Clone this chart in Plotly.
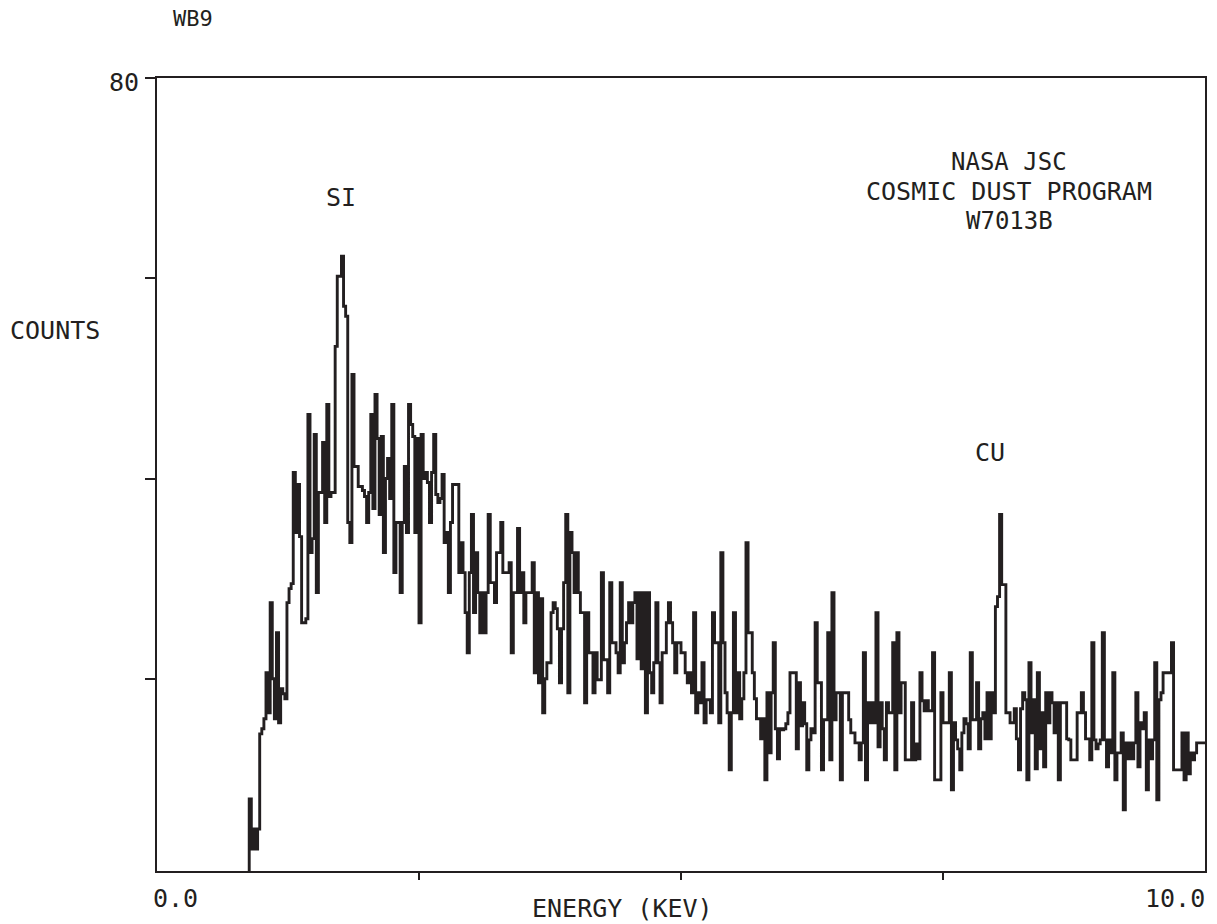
import plotly.graph_objects as go

# Channel width (keV)
channel_width_kev = 0.02

# Counts per channel, 0.00 - 2.00 keV (channels 0-99)
counts_0_2kev = [
    0, 0, 0, 0, 0, 0, 0, 0, 0, 0,
    0, 0, 0, 0, 0, 0, 0, 0, 0, 0,
    0, 0, 0, 0, 0, 0, 0, 0, 0, 0,
    0, 0, 0, 0, 0, 0, 0, 0, 0, 0,
    0, 0, 0, 0,
    8, 3, 5, 3, 5, 14.5, 15, 16, 20.6, 16.6,
    27.6, 20, 16, 24.6, 15.6, 19, 18.5, 18, 27.6, 29,
    29.5, 40.6, 34.6, 39.4, 34.2, 25.6, 25.6, 26, 46.4, 32.6,
    34, 44.4, 28.6, 38.6, 38.6, 43.6, 35.6, 47.4, 38.2, 38.6,
    38.6, 53.2, 60.2, 60.2, 62.2, 57.2, 56.2, 35.6, 33.6, 50.4,
    41.2, 41.2, 39.2, 39.2, 38.8, 38.2,
]

# channels 100-199 (2.00 - 4.00 keV)
counts_2_4kev = [
    35.6, 38.6, 46.4, 37, 48.4, 44, 36.4, 44.2, 32.6, 40,
    42, 38, 47.4, 30.6, 35.6, 35.6, 28.6, 35.6, 41.2, 34.6,
    47.4, 45.4, 44.2, 34.6, 44, 25.6, 44.4, 40, 40.6, 39.6,
    35.6, 40.6, 44.4, 38.4, 37.6, 38, 40.4, 33.6, 34.6, 28.6,
    35.6, 39.4, 39.4, 39.4, 30.6, 33.6, 30.6, 26.6, 22.6, 30.6,
    36.4, 26.6, 32.6, 28.6, 24.6, 28.6, 24.6, 28.6, 36.4, 29.6,
    29.6, 27.6, 32.6, 32.6, 35.6, 30.6, 30.6, 30.6, 31.6, 22.6,
    28.6, 28.6, 35, 28.6, 30.6, 25.6, 28.6, 28.6, 28.6, 31.6,
    20.6, 28.6, 19.6, 28, 16.6, 20, 21.6, 21.6, 26.6, 27.6,
    27, 25, 19.6, 25, 29.6, 36.4, 18.6, 34.6, 32.6, 28.6,
]

# channels 200-299 (4.00 - 6.00 keV)
counts_4_6kev = [
    32.6, 28.6, 26.6, 26.6, 17.6, 26.6, 22.6, 22.6, 18.6, 22.6,
    19.9, 19.9, 30.6, 21.9, 21.9, 18.6, 29.6, 23.6, 23.6, 22.6,
    20.6, 29.6, 21.6, 23.6, 25.6, 27.6, 25.6, 27.6, 28.6, 22,
    28.6, 21, 28.6, 16.6, 28.6, 20.6, 18.6, 21.6, 27.6, 21.6,
    17.6, 22.6, 22.6, 25.6, 27.6, 25.6, 23.6, 20.6, 23.6, 23.6,
    22.6, 22.6, 20.6, 19.6, 20.6, 18.6, 26.6, 16.6, 18.6, 17.6,
    21.6, 15.6, 17.9, 17.9, 16.6, 26.6, 23.6, 23.6, 15.6, 32.6,
    23.6, 18.6, 16.6, 10.9, 16.6, 26.6, 16.6, 20.6, 16, 18,
    20.6, 33.6, 24.6, 24.6, 20.6, 18, 16, 16, 14, 16,
    9.9, 18.6, 12.6, 18.6, 23.6, 15, 12, 15, 14.9, 15,
]

# channels 300-399 (6.00 - 8.00 keV)
counts_6_8kev = [
    15.5, 16.6, 20.6, 20.6, 20.6, 13, 19.6, 15.3, 17.6, 15.5,
    10.9, 13.9, 15, 14.6, 25.6, 19.6, 19.6, 10.9, 15.9, 15.9,
    24.6, 11.9, 28.6, 15.9, 18.6, 18.6, 9.9, 18.6, 18.6, 18.6,
    15.9, 14.6, 14.6, 13.6, 13.6, 11.9, 13.6, 22.6, 9.9, 17.6,
    15.6, 17.6, 15.6, 26.6, 13.2, 17.6, 15, 11.9, 17.6, 16.6,
    16.6, 23.6, 10.9, 24.6, 16.6, 19.6, 19.6, 11.9, 11.9, 11.9,
    17.6, 11.9, 13.5, 12, 20.6, 17.8, 16.8, 17.8, 16.8, 16.8,
    22.6, 9.9, 9.9, 9.9, 18.6, 15.6, 15.6, 15.6, 20.6, 8.9,
    15.6, 13.9, 13, 10.9, 14.6, 16, 15.5, 13, 22.6, 15.9,
    15.9, 19.6, 13, 16, 16.6, 14, 18.6, 14, 18.6, 16.6,
]

# channels 400-499 (8.00 - 10.00 keV)
counts_8_10kev = [
    27.2, 28.2, 36.4, 29.4, 29.4, 16.6, 16.6, 15.6, 15.6, 17,
    14, 10.9, 17, 18.6, 17.9, 9.9, 21.6, 14.6, 17.9, 11,
    20.6, 13, 16.6, 11.2, 18.6, 15.6, 18.6, 17.6, 14.6, 17.6,
    9.9, 17.6, 17.6, 17.6, 14, 13.9, 11.9, 11.9, 11.9, 16.6,
    16.6, 18.6, 16.6, 14, 14, 11.9, 23.6, 13.9, 13, 13.5,
    13.9, 24.6, 13.9, 11.2, 13.9, 12.6, 20.6, 9.9, 12.6, 12.6,
    14.6, 6.9, 13.6, 12, 13.6, 12, 13.6, 18.6, 11.2, 15.6,
    15, 16.6, 8.9, 13.9, 12, 13.9, 21.6, 7.9, 17.9, 18.6,
    20.6, 20.6, 20.6, 20.6, 23.6, 10.9, 10.9, 10.9, 10.9, 14.6,
    9.9, 14.6, 10.5, 12.6, 11.9, 12.6, 13.6, 13.6, 13.6, 13.6,
]

counts = counts_0_2kev + counts_2_4kev + counts_4_6kev + counts_6_8kev + counts_8_10kev
energies = [round(i * channel_width_kev, 4) for i in range(len(counts))]
# close the last channel at its right edge
energies_plot = energies + [round(len(counts) * channel_width_kev, 4)]
counts_plot = counts + [counts[-1]]

x_ticks = [2.5, 5.0, 7.5]
y_ticks = [20, 40, 60, 80]

INK = "#231f20"
FONT = "DejaVu Sans Mono"

fig = go.Figure()
fig.add_trace(go.Scatter(
    x=energies_plot, y=counts_plot, mode="lines",
    line=dict(shape="hv", color=INK, width=2.9),
    showlegend=False, hoverinfo="skip",
))

W, H = 1217, 924
L, R, T, B = 157, 1207, 78, 871


def px(x):
    return (x - L) / (R - L)


def py(y):
    return (B - y) / (B - T)


def label(text, x, y, size=24):
    return dict(text=text, x=px(x), y=py(y), xref="paper", yref="paper",
                showarrow=False, xanchor="center", yanchor="middle",
                font=dict(family=FONT, size=size, color=INK))


annotations = [
    label("WB9", 193, 19, 22),
    label("80", 124, 83, 25),
    label("COUNTS", 55, 330, 25),
    label("SI", 341, 197, 25),
    label("NASA JSC", 1011, 162, 24),
    label("COSMIC DUST PROGRAM", 1011, 192, 25),
    label("W7013B", 1011, 221, 24),
    label("CU", 992, 452, 25),
    label("0.0", 176, 898, 25),
    label("ENERGY (KEV)", 623, 908, 25),
    label("10.0", 1177, 898, 25),
]

fig.update_layout(
    width=W, height=H,
    margin=dict(l=L, r=W - R, t=T, b=H - B, pad=0),
    paper_bgcolor="white", plot_bgcolor="white",
    annotations=annotations,
    xaxis=dict(range=[0, 10], showline=True, linecolor=INK, linewidth=2,
               mirror=True, ticks="outside", tickvals=x_ticks, ticklen=7,
               tickwidth=2, tickcolor=INK, showticklabels=False,
               showgrid=False, zeroline=False, fixedrange=True),
    yaxis=dict(range=[0.8, 80], showline=True, linecolor=INK, linewidth=2,
               mirror=True, ticks="outside", tickvals=y_ticks, ticklen=10,
               tickwidth=2, tickcolor=INK, showticklabels=False,
               showgrid=False, zeroline=False, fixedrange=True),
)

fig.write_html(
    "out.html",
    config={"displayModeBar": False},
    post_script="document.body.style.margin='0';document.body.style.overflow='hidden';",
)
